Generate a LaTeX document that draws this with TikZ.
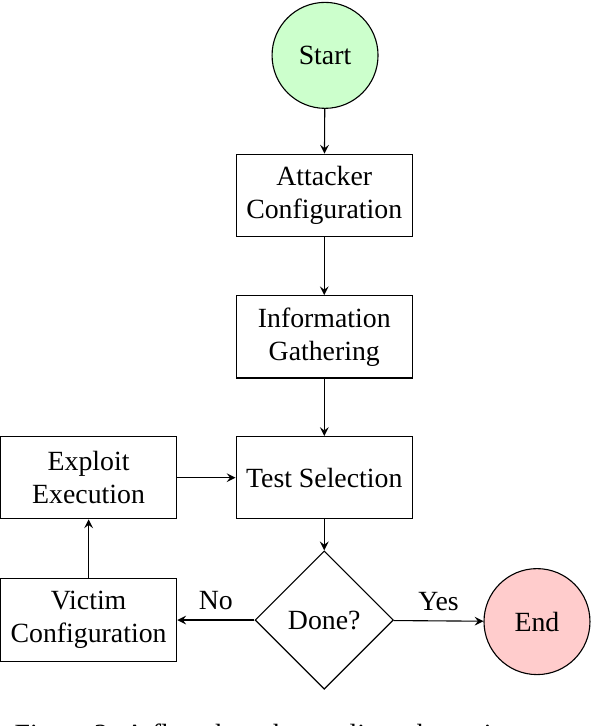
\documentclass[tikz,border=0pt]{standalone}
\usepackage{fontspec}
\setmainfont{Liberation Serif}
\usetikzlibrary{calc,positioning,shapes,arrows}

\begin{document}
\begin{tikzpicture}[>=stealth,
  stepbox/.style={shape=rectangle,draw,align=center,minimum width=2.23cm,minimum height=1.04cm},
  endpoint/.style={shape=circle,draw,minimum size=1.34cm}]
\useasboundingbox (0,0) rectangle (7.49,-9.18);
\node[endpoint,fill=green!20](start) at (4.11,-0.70) {Start};
\node(attacker) at (4.10,-2.47) [stepbox] {Attacker\\Configuration};
\node(info) at (4.10,-4.26) [stepbox] {Information\\Gathering};
\node(test) at (4.10,-6.04) [stepbox] {Test Selection};
\node(exploit) at (1.12,-6.04) [stepbox] {Exploit\\Execution};
\node(victim) at (1.12,-7.84) [stepbox] {Victim\\Configuration};
\node(done) at (4.10,-7.84) [shape=diamond,draw,aspect=1,minimum width=1.75cm,minimum height=1.75cm,inner sep=1pt] {Done?};
\node[endpoint,fill=red!20](end) at (6.79,-7.86) {End};
\path [->]
(start) edge (attacker)
(attacker) edge (info)
(info) edge (test)
(test) edge (done)
(done) edge node [above] {No} (victim)
(done) edge node [above] {Yes} (end)
(victim) edge (exploit)
(exploit) edge (test);
% caption, cut off by the page edge
\node(caption) [anchor=base west] at (0.06,-9.40) {Figure 3: A flowchart that outlines the main};
\end{tikzpicture}
\end{document}
